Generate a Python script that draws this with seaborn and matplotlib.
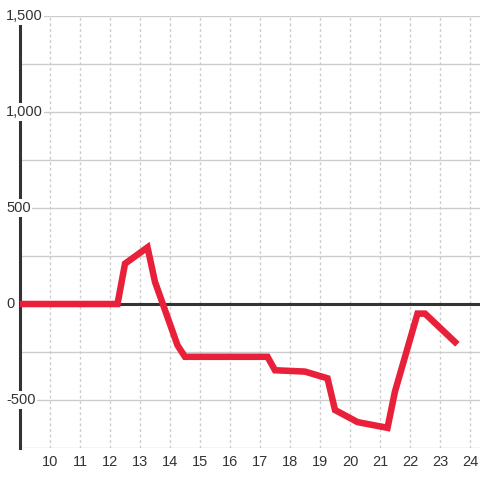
import pandas as pd
import seaborn as sns
import matplotlib.pyplot as plt

# Data
hours = [9, 12.25, 12.5, 13.25, 13.5, 14.25, 14.5, 17.25, 17.5, 18.5,
         19.25, 19.5, 20.25, 21.25, 21.5, 22.25, 22.5, 23.5]
values = [0, 0, 210, 295, 115, -215, -275, -275, -345, -352,
          -387, -552, -615, -645, -455, -50, -50, -198]
x_ticks = list(range(10, 25))
y_grid = [-750, -500, -250, 0, 250, 500, 750, 1000, 1250, 1500]
y_labels = [-500, 0, 500, 1000, 1500]

df = pd.DataFrame({'hour': hours, 'value': values})

sns.set_style('white')
plt.rcParams['font.family'] = ['Liberation Sans', 'DejaVu Sans']

fig = plt.figure(figsize=(4.8, 4.8), dpi=100)
ax = fig.add_axes([20 / 480, 32 / 480, 460 / 480, 432 / 480])

sns.lineplot(x='hour', y='value', data=df, color='#e8203a', linewidth=4.7,
             solid_capstyle='projecting', solid_joinstyle='miter', zorder=4, ax=ax)

ax.set_xlim(9, 24.333)
ax.set_ylim(-750, 1500)
ax.set_xticks(x_ticks)
ax.set_yticks(y_grid)
ax.set_yticklabels([])
ax.set_xlabel('')
ax.set_ylabel('')
ax.tick_params(axis='both', length=0)
ax.tick_params(axis='x', labelsize=10.5, labelcolor='#333333', pad=5)

ax.grid(axis='y', color='#cccccc', linewidth=1, linestyle='-')
ax.grid(axis='x', color='#cccccc', linewidth=1, linestyle=(0, (2, 2)))
ax.set_axisbelow(True)

for s in ['top', 'right', 'bottom']:
    ax.spines[s].set_visible(False)
ax.spines['left'].set_color('#333333')
ax.spines['left'].set_linewidth(2.2)

# zero baseline
ax.axhline(0, color='#333333', linewidth=2.2, zorder=3)

# y labels sit on top of the axis line with a white box
for v in y_labels:
    ax.text(-14 / 460, v, f'{v:,}', transform=ax.get_yaxis_transform(),
            ha='left', va='center', fontsize=10.5, color='#333333', zorder=5,
            clip_on=False,
            bbox=dict(facecolor='white', edgecolor='none', pad=1.2))

fig.savefig('out.png', dpi=100, facecolor='white')
